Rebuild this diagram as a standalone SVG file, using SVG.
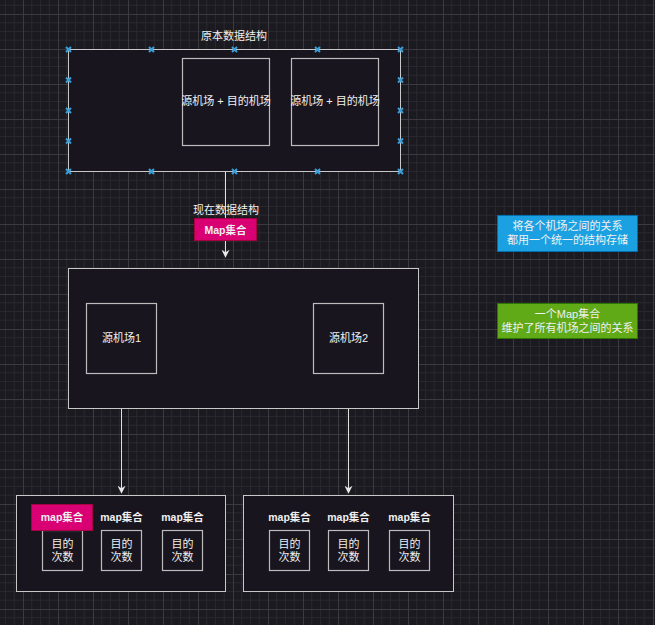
<svg xmlns="http://www.w3.org/2000/svg" width="655" height="625" viewBox="0 0 655 625">
<defs>
<pattern id="grid" patternUnits="userSpaceOnUse" x="23" y="14" width="35" height="35">
<path d="M8.75 0V35M17.5 0V35M26.25 0V35M0 8.75H35M0 17.5H35M0 26.25H35" stroke="#28272d" stroke-width="1" fill="none"/>
<path d="M0.5 0V35M0 0.5H35" stroke="#3b3a40" stroke-width="1" fill="none"/>
</pattern>
<marker id="arr" viewBox="0 0 10 10" refX="9" refY="5" markerWidth="8" markerHeight="8" markerUnits="userSpaceOnUse" orient="auto">
<path d="M0 0L10 5L0 10L3 5Z" fill="#e8e8e8"/>
</marker>
<g id="handle"><path d="M-2.5 -2.5L2.5 2.5M-2.5 2.5L2.5 -2.5" stroke="#3a9fd8" stroke-width="2"/></g>
</defs>
<style>
text{font-family:"Liberation Sans","Noto Sans CJK SC",sans-serif;font-size:11px;fill:#f0f0f0;text-anchor:middle;dominant-baseline:central}
.box{fill:#18151e;stroke:#c8c8c8;stroke-width:1}
.inner{fill:#18151e;stroke:#bdbdbd;stroke-width:1.2}
.edge{stroke:#e0e0e0;stroke-width:1;fill:none}
.b{font-weight:bold;font-size:10.5px}
</style>
<rect width="655" height="625" fill="#1b1a20"/>
<rect width="655" height="625" fill="url(#grid)"/>

<g id="connectors">
<path class="edge" d="M225.5 145V257" marker-end="url(#arr)"/>
<path class="edge" d="M121.5 373V493" marker-end="url(#arr)"/>
<path class="edge" d="M348.5 373V493" marker-end="url(#arr)"/>
</g>

<g id="original">
<text x="234" y="36">原本数据结构</text>
<rect class="box" x="68.5" y="49.5" width="332" height="122"/>
<use href="#handle" x="68.5" y="49.5"/><use href="#handle" x="151.5" y="49.5"/><use href="#handle" x="234.5" y="49.5"/><use href="#handle" x="317.5" y="49.5"/><use href="#handle" x="400.5" y="49.5"/>
<use href="#handle" x="68.5" y="171.5"/><use href="#handle" x="151.5" y="171.5"/><use href="#handle" x="234.5" y="171.5"/><use href="#handle" x="317.5" y="171.5"/><use href="#handle" x="400.5" y="171.5"/>
<use href="#handle" x="68.5" y="80"/><use href="#handle" x="68.5" y="110.5"/><use href="#handle" x="68.5" y="141"/>
<use href="#handle" x="400.5" y="80"/><use href="#handle" x="400.5" y="110.5"/><use href="#handle" x="400.5" y="141"/>
</g>
<g id="pairA">
<rect class="inner" x="182.5" y="58.5" width="87" height="87"/>
<text x="226" y="101">源机场 + 目的机场</text>
</g>
<g id="pairB">
<rect class="inner" x="291.5" y="58.5" width="87" height="87"/>
<text x="335" y="101">源机场 + 目的机场</text>
</g>

<g id="nowLabel">
<text x="226" y="210">现在数据结构</text>
<rect x="194.5" y="218.5" width="62" height="22" fill="#d80073" stroke="#a50040"/>
<text class="b" x="225.5" y="229.5">Map集合</text>
</g>

<g id="newStruct">
<rect class="box" x="68.5" y="268.5" width="350" height="140"/>
</g>
<g id="src1">
<rect class="inner" x="86.5" y="303.5" width="70" height="70"/>
<text x="121.5" y="338">源机场1</text>
</g>
<g id="src2">
<rect class="inner" x="313.5" y="303.5" width="70" height="70"/>
<text x="348.5" y="338">源机场2</text>
</g>

<g id="blueNote">
<rect x="497.5" y="215.5" width="140" height="36" fill="#1ba1e2" stroke="#006eaf"/>
<text x="567.5" y="226">将各个机场之间的关系</text>
<text x="567.5" y="240">都用一个统一的结构存储</text>
</g>
<g id="greenNote">
<rect x="497.5" y="303.5" width="140" height="35" fill="#60a917" stroke="#2d7600"/>
<text x="567.5" y="313.5">一个Map集合</text>
<text x="567.5" y="327.5">维护了所有机场之间的关系</text>
</g>

<g id="map1">
<rect class="box" x="16.5" y="495.5" width="209" height="96"/>
</g>
<g id="m1a">
<rect class="inner" x="42.5" y="530.5" width="40" height="40"/>
<text x="62.5" y="543.5">目的</text><text x="62.5" y="556.5">次数</text>
<rect x="31.5" y="504.5" width="61" height="26" fill="#d80073" stroke="#a50040"/>
<text class="b" x="62" y="517">map集合</text>
</g>
<g id="m1b">
<text class="b" x="121.5" y="517">map集合</text>
<rect class="inner" x="101.5" y="530.5" width="40" height="40"/>
<text x="121.5" y="543.5">目的</text><text x="121.5" y="556.5">次数</text>
</g>
<g id="m1c">
<text class="b" x="182.5" y="517">map集合</text>
<rect class="inner" x="162.5" y="530.5" width="40" height="40"/>
<text x="182.5" y="543.5">目的</text><text x="182.5" y="556.5">次数</text>
</g>

<g id="map2">
<rect class="box" x="243.5" y="495.5" width="210" height="96"/>
</g>
<g id="m2a">
<text class="b" x="289.5" y="517">map集合</text>
<rect class="inner" x="269.5" y="530.5" width="40" height="40"/>
<text x="289.5" y="543.5">目的</text><text x="289.5" y="556.5">次数</text>
</g>
<g id="m2b">
<text class="b" x="348.5" y="517">map集合</text>
<rect class="inner" x="328.5" y="530.5" width="40" height="40"/>
<text x="348.5" y="543.5">目的</text><text x="348.5" y="556.5">次数</text>
</g>
<g id="m2c">
<text class="b" x="409.5" y="517">map集合</text>
<rect class="inner" x="389.5" y="530.5" width="40" height="40"/>
<text x="409.5" y="543.5">目的</text><text x="409.5" y="556.5">次数</text>
</g>
</svg>
